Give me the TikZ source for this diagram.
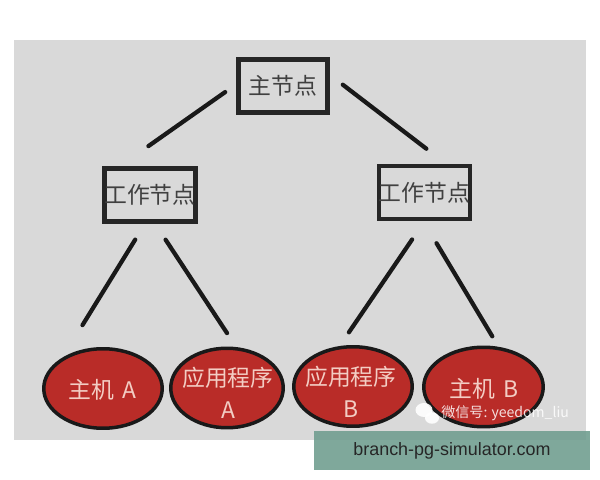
\documentclass[tikz,border=0pt]{standalone}
\usepackage{fontspec}
\usetikzlibrary{shapes.geometric}
\setmainfont{Noto Sans CJK SC}
\newfontfamily\urlfont{Liberation Sans}
\definecolor{sfondo}{HTML}{D9D9D9}
\definecolor{rosso}{HTML}{B92C28}
\definecolor{rosa}{HTML}{F3CDC4}
\definecolor{banda}{HTML}{719E90}
\tikzset{
    box/.style={draw=black!85, line width=.09cm, minimum width=1.79cm, minimum height=1.07cm,
        inner sep=0pt, outer sep=0pt, text=black!75, font=\fontsize{13}{16}\selectfont},
    oval/.style={ellipse, draw=black!90, line width=.07cm, fill=rosso, inner sep=0pt, outer sep=0pt,
        minimum width=2.37cm, minimum height=1.59cm},
    ovaltext/.style={text=rosa, align=center, inner sep=0pt, font=\fontsize{13}{18.2}\selectfont},
    link/.style={line width=.085cm, black!90, line cap=round}
}
\begin{document}
\begin{tikzpicture}[x=.02cm, y=-.02cm]
    \useasboundingbox (0,0) rectangle (600,480);

    % Sfondo
    \fill[sfondo] (14,40) rectangle (586,440);

    % Nodi
    \node[box] (main) at (283,86) {主节点};
    \node[box] (left) at (150,195) {工作节点};
    \node[box] (right) at (424.5,192.5) {工作节点};
    \node[oval] (hostA) at (103,388.5) {};
    \node[oval, minimum width=2.25cm] (appA) at (227,388) {};
    \node[oval] (appB) at (353,386.5) {};
    \node[oval, minimum width=2.39cm] (hostB) at (483.5,387) {};

    % Testi
    \node[ovaltext] (hostAtext) at (102.5,390) {主机\,\,A};
    \node[ovaltext] (appAtext) at (228,392.5) {应用程序\\A};
    \node[ovaltext] (appBtext) at (351,392) {应用程序\\B};
    \node[ovaltext] (hostBtext) at (484,389) {主机\,\,B};

    % Collegamenti
    \draw[link, shorten <=.32cm, shorten >=.77cm] (main.176) -- (left.141);
    \draw[link, shorten <=.38cm, shorten >=.56cm] (main.16.5) -- (right.48);
    \draw[link, shorten <=.42cm, shorten >=.84cm] (left.262) -- (hostA.147);
    \draw[link, shorten <=.43cm, shorten >=.38cm] (left.278.5) -- (appA.75.6);
    \draw[link, shorten <=.49cm, shorten >=.38cm] (right.273.7) -- (appB.111.6);
    \draw[link, shorten <=.56cm, shorten >=.29cm] (right.265.8) -- (hostB.67.3);

    % Filigrana
    \node[ellipse, fill=white, opacity=.9, minimum width=.34cm, minimum height=.28cm, inner sep=0pt] (chatA) at (424,410) {};
    \node[ellipse, fill=white, opacity=.9, minimum width=.28cm, minimum height=.23cm, inner sep=0pt] (chatB) at (432,418) {};
    \node[text=white, opacity=.85, font=\fontsize{8}{10}\selectfont, anchor=west, inner sep=0pt] (mark) at (441,413) {微信号: yeedom\_liu};

    % Banda in basso
    \fill[banda, opacity=.9] (314,431) rectangle (590,470);
    \node[text=black!85, font=\urlfont\fontsize{10.2}{12}\selectfont] (site) at (452,451) {branch-pg-simulator.com};
\end{tikzpicture}
\end{document}
